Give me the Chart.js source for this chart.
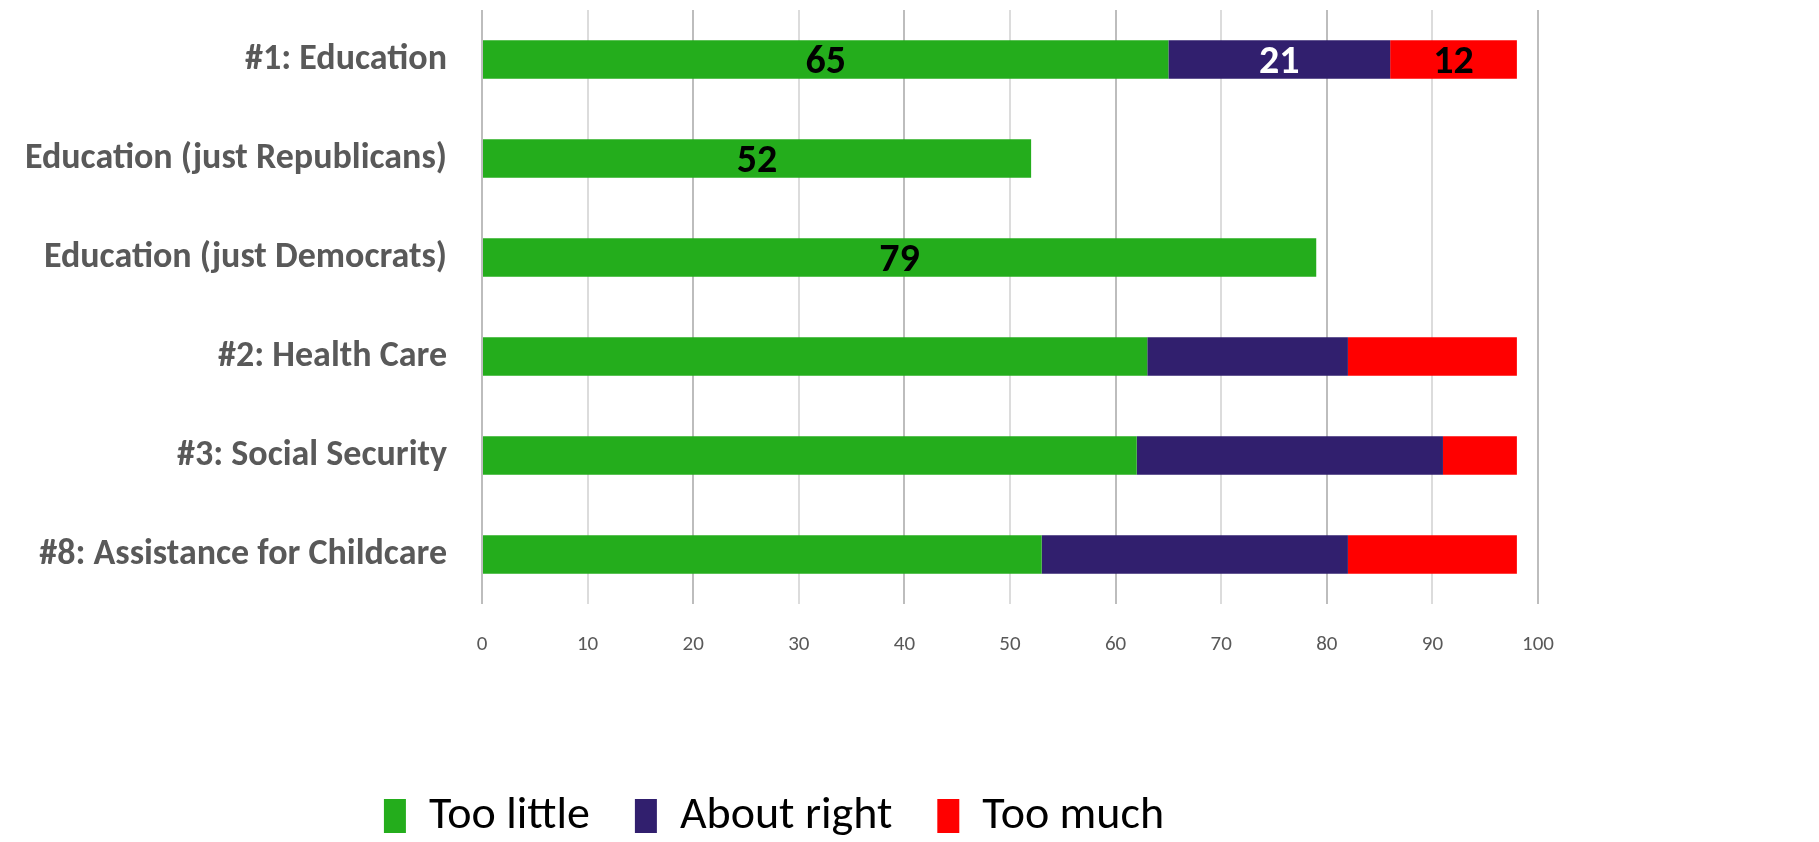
<!DOCTYPE html>
<html>
<head>
<meta charset="utf-8">
<script src="https://cdn.jsdelivr.net/npm/chart.js@4"></script>
<style>
  html, body { margin: 0; padding: 0; background: #fff; }
  #wrap { width: 1819px; height: 842px; }
</style>
</head>
<body>
<div id="wrap"><canvas id="chart"></canvas></div>
<script>
const categories = [
  "#1: Education",
  "Education (just Republicans)",
  "Education (just Democrats)",
  "#2: Health Care",
  "#3: Social Security",
  "#8: Assistance for Childcare"
];
const tooLittle = [65, 52, 79, 63, 62, 53];
const aboutRight = [21, null, null, 19, 29, 29];
const tooMuch = [12, null, null, 16, 7, 16];
const xTicks = [0, 10, 20, 30, 40, 50, 60, 70, 80, 90, 100];
// rows whose segments carry a value label
const labeledRows = [0, 1, 2];

const FONT = "Carlito, 'Liberation Sans Narrow', 'Open Sans', sans-serif";

// small stand-in for a datalabels plugin
const barLabels = {
  id: "barLabels",
  afterDatasetsDraw(chart) {
    const ctx = chart.ctx;
    ctx.save();
    ctx.font = "bold 40px " + FONT;
    ctx.textAlign = "center";
    ctx.textBaseline = "middle";
    chart.data.datasets.forEach((ds, i) => {
      const meta = chart.getDatasetMeta(i);
      meta.data.forEach((bar, j) => {
        const v = ds.data[j];
        if (v == null || !labeledRows.includes(j)) return;
        const cx = (bar.x + bar.base) / 2;
        ctx.fillStyle = ds.labelColor;
        ctx.fillText(String(v), cx, bar.y + 3);
      });
    });
    ctx.restore();
  }
};

new Chart(document.getElementById("chart"), {
  type: "bar",
  data: {
    labels: categories,
    datasets: [
      { label: "Too little", data: tooLittle, backgroundColor: "#24ad1c", labelColor: "#000" },
      { label: "About right", data: aboutRight, backgroundColor: "#311f6e", labelColor: "#fff" },
      { label: "Too much", data: tooMuch, backgroundColor: "#ff0000", labelColor: "#000" }
    ]
  },
  options: {
    indexAxis: "y",
    responsive: true,
    maintainAspectRatio: false,
    animation: false,
    layout: { padding: { left: 10, right: 281, top: 10, bottom: -7 } },
    datasets: { bar: { barPercentage: 0.78, categoryPercentage: 0.5 } },
    scales: {
      x: {
        stacked: true,
        min: 0,
        max: 100,
        afterBuildTicks(axis) { axis.ticks = xTicks.map(v => ({ value: v })); },
        grid: {
          drawTicks: false,
          lineWidth: 2,
          color: (c) => (c.index % 2 === 0 ? "#bdbdbd" : "#dcdcdc")
        },
        border: { display: false },
        ticks: {
          padding: 28,
          color: "#595959",
          font: { family: FONT, size: 21 }
        },
        afterFit(axis) { axis.height = 144; }
      },
      y: {
        stacked: true,
        grid: { display: false, drawTicks: false },
        border: { display: false },
        ticks: {
          padding: 35,
          color: "#595959",
          font: { family: FONT, size: 36, weight: "bold" }
        },
        afterFit(axis) {
          axis.width = 472;
          axis.paddingTop = 0;
          axis.paddingBottom = 0;
        }
      }
    },
    plugins: {
      tooltip: { enabled: false },
      legend: {
        position: "bottom",
        labels: {
          boxWidth: 22,
          boxHeight: 34,
          padding: 45,
          color: "#000",
          font: { family: FONT, size: 46 }
        }
      }
    }
  },
  plugins: [barLabels]
});
</script>
</body>
</html>
